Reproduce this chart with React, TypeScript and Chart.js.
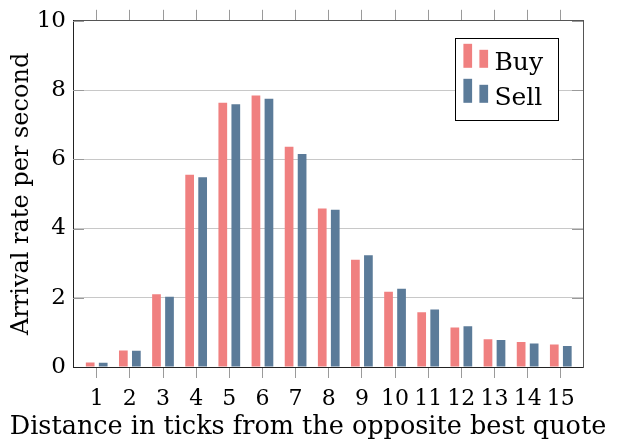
import React, { useEffect, useRef } from "react";
import { Chart, registerables } from "chart.js";

Chart.register(...registerables);

const categories = [1, 2, 3, 4, 5, 6, 7, 8, 9, 10, 11, 12, 13, 14, 15];
const buyValues = [0.13, 0.48, 2.1, 5.55, 7.63, 7.84, 6.36, 4.58, 3.1, 2.17, 1.58, 1.14, 0.8, 0.72, 0.65];
const sellValues = [0.12, 0.47, 2.03, 5.48, 7.59, 7.75, 6.15, 4.54, 3.23, 2.26, 1.66, 1.18, 0.78, 0.68, 0.61];
const yTicks = [0, 2, 4, 6, 8, 10];
const seriesLabels = ["Buy", "Sell"];
const xTitle = "Distance in ticks from the opposite best quote";
const yTitle = "Arrival rate per second";

const FONT = "'DejaVu Serif', 'Liberation Serif', serif";
const BUY_COLOR = "#f08080";
const SELL_COLOR = "#5b7b99";

const innerTicks = {
  id: "innerTicks",
  afterDraw(chart: any) {
    const { ctx, chartArea, scales } = chart;
    const y = scales.y;
    ctx.save();
    ctx.strokeStyle = "#9a9a9a";
    ctx.lineWidth = 1;
    yTicks.forEach((v) => {
      if (v === 0) return;
      const py = Math.round(y.getPixelForValue(v)) + 0.5;
      ctx.beginPath();
      ctx.moveTo(chartArea.left, py);
      ctx.lineTo(chartArea.left + 11, py);
      ctx.moveTo(chartArea.right - 11, py);
      ctx.lineTo(chartArea.right, py);
      ctx.stroke();
    });
    ctx.restore();
  },
};

const bottomTitle = {
  id: "bottomTitle",
  afterDraw(chart: any) {
    const { ctx, chartArea } = chart;
    ctx.save();
    ctx.font = `25.5px ${FONT}`;
    ctx.fillStyle = "#000";
    ctx.textAlign = "center";
    ctx.textBaseline = "alphabetic";
    ctx.fillText(xTitle, (chartArea.left + chartArea.right) / 2 - 20, chartArea.bottom + 67);
    ctx.restore();
  },
};

const boxLegend = {
  id: "boxLegend",
  afterDraw(chart: any) {
    const { ctx, chartArea } = chart;
    const ds = chart.data.datasets;
    ctx.save();
    ctx.font = `25px ${FONT}`;
    const textW = Math.max(...ds.map((d: any) => ctx.measureText(d.label).width));
    const padL = 8;
    const markerW = 25;
    const gap = 6;
    const padR = 15;
    const w = padL + markerW + gap + textW + padR;
    const rowH = 35;
    const h = 82;
    const x0 = chartArea.right - 25 - w;
    const y0 = chartArea.top + 17;
    ctx.fillStyle = "#ffffff";
    ctx.fillRect(x0, y0, w, h);
    ctx.strokeStyle = "#000000";
    ctx.lineWidth = 1;
    ctx.strokeRect(Math.round(x0) + 0.5, Math.round(y0) + 0.5, Math.round(w), Math.round(h));
    ds.forEach((d: any, i: number) => {
      const rowBottom = y0 + 30 + i * rowH;
      ctx.fillStyle = d.backgroundColor;
      ctx.fillRect(x0 + padL, rowBottom - 24, 8.7, 24);
      ctx.fillRect(x0 + padL + 16, rowBottom - 18, 8.7, 18);
      ctx.fillStyle = "#000000";
      ctx.textBaseline = "alphabetic";
      ctx.textAlign = "left";
      ctx.fillText(d.label, x0 + padL + markerW + gap, rowBottom + 2);
    });
    ctx.restore();
  },
};

export default function App() {
  const ref = useRef<HTMLCanvasElement>(null);
  useEffect(() => {
    document.body.style.margin = "0";
    const canvas = ref.current!;
    const setTicks = (scale: any) => {
      scale.ticks = categories.map((v) => ({ value: v }));
    };
    const setYTicks = (scale: any) => {
      scale.ticks = yTicks.map((v) => ({ value: v }));
    };
    const chart = new Chart(canvas, {
      type: "bar",
      data: {
        datasets: [
          {
            label: seriesLabels[0],
            data: categories.map((c, i) => ({ x: c, y: buyValues[i] })),
            backgroundColor: BUY_COLOR,
            categoryPercentage: 0.785,
            barPercentage: 0.67,
          },
          {
            label: seriesLabels[1],
            data: categories.map((c, i) => ({ x: c, y: sellValues[i] })),
            backgroundColor: SELL_COLOR,
            categoryPercentage: 0.785,
            barPercentage: 0.67,
          },
        ],
      },
      options: {
        animation: false,
        responsive: false,
        layout: { padding: 0 },
        plugins: {
          legend: { display: false },
          tooltip: { enabled: false },
        },
        scales: {
          x: {
            type: "linear",
            position: "bottom",
            offset: false,
            min: 0.285,
            max: 15.67,
            afterBuildTicks: setTicks,
            afterFit: (s: any) => {
              s.height = 77;
            },
            grid: {
              offset: false,
              drawOnChartArea: false,
              drawTicks: true,
              tickLength: 11,
              color: "#9a9a9a",
            },
            border: { color: "#222222", width: 1 },
            ticks: {
              color: "#000",
              font: { family: FONT, size: 22 },
              padding: 8,
              maxRotation: 0,
              autoSkip: false,
              callback: (v: any) => String(v),
            },
            title: { display: false },
          },
          x2: {
            type: "linear",
            position: "top",
            offset: false,
            min: 0.285,
            max: 15.67,
            afterBuildTicks: setTicks,
            afterFit: (s: any) => {
              s.height = 19;
            },
            grid: {
              offset: false,
              drawOnChartArea: false,
              drawTicks: true,
              tickLength: 11,
              color: "#9a9a9a",
            },
            border: { color: "#555555", width: 1 },
            ticks: { display: false },
          },
          y: {
            type: "linear",
            position: "left",
            min: 0,
            max: 10,
            afterBuildTicks: setYTicks,
            afterFit: (s: any) => {
              s.width = 73;
            },
            grid: {
              color: "#c8c8c8",
              drawTicks: false,
              tickLength: 0,
            },
            border: { color: "#222222", width: 1 },
            ticks: {
              color: "#000",
              font: { family: FONT, size: 23 },
              padding: 7,
            },
            title: {
              display: true,
              text: yTitle,
              color: "#000",
              font: { family: FONT, size: 24 },
              padding: { top: 7, bottom: 0 },
            },
          },
          y2: {
            type: "linear",
            position: "right",
            min: 0,
            max: 10,
            afterBuildTicks: setYTicks,
            afterFit: (s: any) => {
              s.width = 39;
            },
            grid: { drawOnChartArea: false, drawTicks: false, tickLength: 0 },
            border: { color: "#555555", width: 1 },
            ticks: { display: false },
          },
        },
      } as any,
      plugins: [innerTicks, bottomTitle, boxLegend],
    });
    return () => chart.destroy();
  }, []);
  return <canvas ref={ref} width={622} height={444} style={{ display: "block", width: 622, height: 444 }} />;
}
